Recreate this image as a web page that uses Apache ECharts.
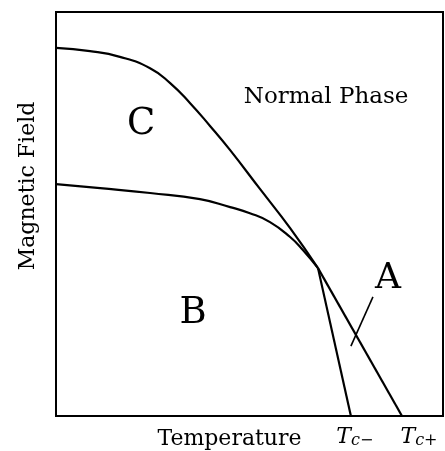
<!DOCTYPE html>
<html>
<head>
<meta charset="utf-8">
<script src="https://cdn.jsdelivr.net/npm/echarts@6/dist/echarts.min.js"></script>
<style>
  html, body { margin: 0; padding: 0; background: #fff; }
  #chart { width: 445px; height: 451px; }
</style>
</head>
<body>
<div id="chart"></div>
<script>
// phase boundaries, temperature / field in arbitrary units (0-100)
const cCurveT = [0, 8.8, 16.5, 24.3, 29.5, 34.6, 39.8, 45.0, 52.7, 60.5, 67.7]
const cCurveH = [91.1, 90.3, 88.9, 86.1, 82.4, 77.5, 71.8, 65.8, 56.2, 46.5, 36.6]
const bCurveT = [0, 11.4, 24.3, 37.2, 45.0, 50.1, 55.3, 60.5, 63.8, 67.7]
const bCurveH = [57.4, 56.4, 55.2, 53.7, 51.7, 50.2, 48.0, 44.3, 41.1, 36.6]
const kink = [67.7, 36.6]
const tcMinus = 76.2
const tcPlus = 89.4
const pointerA = [[81.9, 29.5], [76.2, 17.3]]

const regionNames = ['Normal Phase', 'C', 'B', 'A']
const regionT = [69.8, 22.0, 35.4, 85.8]
const regionH = [79.0, 72.2, 25.4, 33.9]
const regionSize = [23, 37, 37, 36]

const serif = 'DejaVu Serif'
const zip = (xs, ys) => xs.map((x, i) => [x, ys[i]])

const lineStyle = { color: '#000', width: 2.2 }
const lineSeries = (data, smooth, width) => ({
  type: 'line',
  data,
  smooth,
  symbol: 'none',
  silent: true,
  lineStyle: { ...lineStyle, width: width || lineStyle.width }
})

const chart = echarts.init(document.getElementById('chart'))

chart.setOption({
  animation: false,
  grid: {
    left: 56, right: 2, top: 12, bottom: 35,
    outerBoundsMode: 'none',
    containLabel: false,
    show: true, borderColor: '#000', borderWidth: 2
  },
  xAxis: {
    type: 'value', min: 0, max: 100,
    name: 'Temperature',
    nameLocation: 'middle',
    nameGap: 12,
    nameMoveOverlap: false,
    nameTextStyle: { fontFamily: serif, fontSize: 22, color: '#000', padding: [0, 40, 0, 0] },
    axisLine: { show: false },
    axisTick: { show: false },
    splitLine: { show: false },
    axisLabel: {
      customValues: [tcMinus, tcPlus],
      margin: 9,
      formatter: v => v === tcMinus ? '{m|T}{s|c−}' : '{p|T}{s|c+}',
      rich: {
        m: { fontFamily: serif, fontStyle: 'italic', fontSize: 22, color: '#000', padding: [0, 0, 0, 8] },
        p: { fontFamily: serif, fontStyle: 'italic', fontSize: 22, color: '#000', padding: [0, 0, 0, 34] },
        s: { fontFamily: serif, fontStyle: 'italic', fontSize: 16, color: '#000', padding: [8, 0, 0, 0] }
      }
    }
  },
  yAxis: {
    type: 'value', min: 0, max: 100,
    name: 'Magnetic Field',
    nameLocation: 'middle',
    nameGap: 17,
    nameMoveOverlap: false,
    nameTextStyle: { fontFamily: serif, fontSize: 22, color: '#000', padding: [0, 0, 0, 56] },
    axisLine: { show: false },
    axisTick: { show: false },
    axisLabel: { show: false },
    splitLine: { show: false }
  },
  series: [
    lineSeries(zip(cCurveT, cCurveH), 0.5),
    lineSeries([kink, [tcPlus, 0]], false),
    lineSeries(zip(bCurveT, bCurveH), 0.5),
    lineSeries([kink, [tcMinus, 0]], false),
    lineSeries(pointerA, false, 1.6),
    {
      type: 'scatter',
      silent: true,
      symbolSize: 0,
      itemStyle: { color: '#000', opacity: 1 },
      data: regionNames.map((n, i) => ({
        name: n,
        value: [regionT[i], regionH[i]],
        label: { fontSize: regionSize[i], color: '#000' }
      })),
      label: {
        show: true,
        position: 'inside',
        formatter: p => p.name,
        fontFamily: serif,
        color: '#000',
        opacity: 1,
        textBorderWidth: 0
      }
    }
  ]
})
</script>
</body>
</html>
